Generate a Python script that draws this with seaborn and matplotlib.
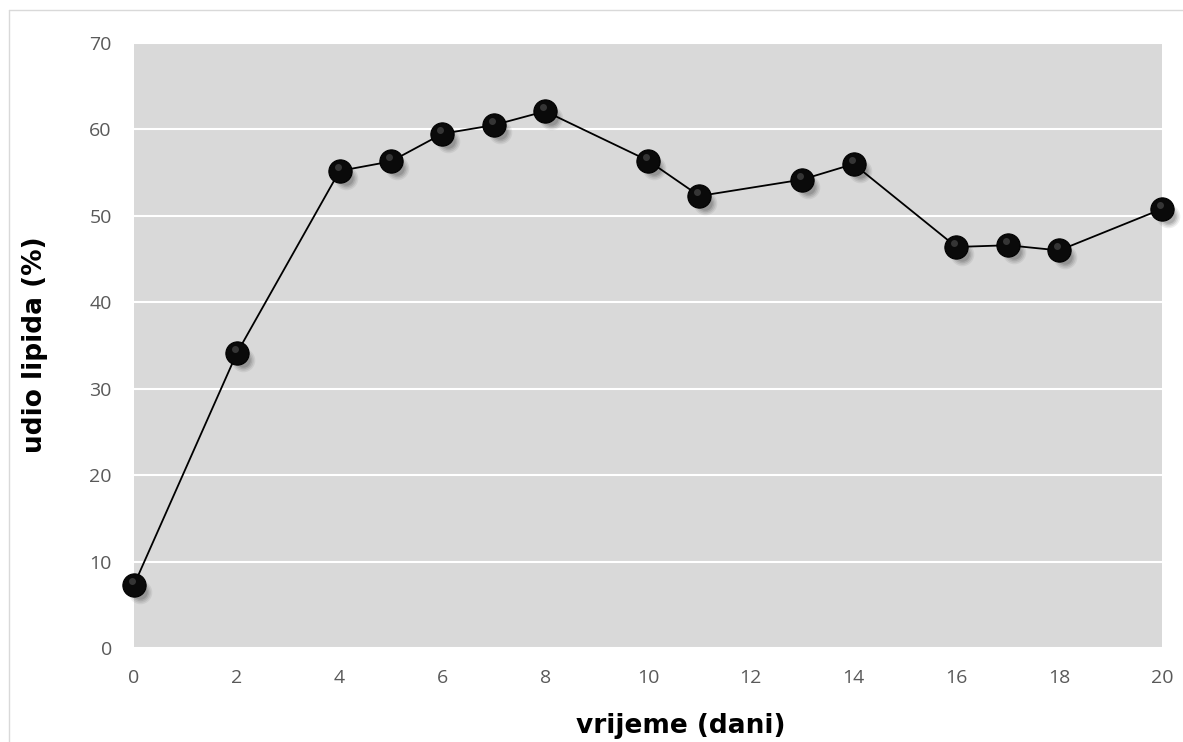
import matplotlib
matplotlib.use('Agg')
import matplotlib.pyplot as plt
import matplotlib.transforms as mtransforms
import seaborn as sns
import pandas as pd

# vrijeme (dani) / udio lipida (%)
days = [0, 2, 4, 5, 6, 7, 8, 10, 11, 13, 14, 16, 17, 18, 20]
lipid = [7.3, 34.1, 55.2, 56.3, 59.5, 60.5, 62.1, 56.4, 52.3, 54.2, 56.0, 46.4, 46.6, 46.0, 50.8]

x_ticks = list(range(0, 21, 2))
y_ticks = list(range(0, 71, 10))

df = pd.DataFrame({'dani': days, 'lipidi': lipid})

sns.set_theme(style='white')
plt.rcParams['font.family'] = ['Open Sans', 'DejaVu Sans']

fig = plt.figure(figsize=(11.83, 7.42), dpi=100)
ax = fig.add_axes([134 / 1183, 1 - 648 / 742, 1028 / 1183, 605 / 742])
ax.set_facecolor('#d9d9d9')

# line
sns.lineplot(data=df, x='dani', y='lipidi', ax=ax, color='black', linewidth=1.3,
             zorder=3, clip_on=False)

# soft shadow under each ball
for i, a in enumerate([0.08, 0.10, 0.13, 0.16]):
    off = mtransforms.offset_copy(ax.transData, fig=fig, x=6, y=-7, units='dots')
    ax.plot(df['dani'], df['lipidi'], 'o', markersize=17 - i * 2.2, color='#303030',
            alpha=a, markeredgewidth=0, transform=off, zorder=2, clip_on=False)

# balls
sns.scatterplot(data=df, x='dani', y='lipidi', ax=ax, s=280, color='#0a0a0a',
                edgecolor='#000000', linewidth=0.8, zorder=4, clip_on=False)
hl = mtransforms.offset_copy(ax.transData, fig=fig, x=-2, y=4, units='dots')
ax.plot(df['dani'], df['lipidi'], 'o', markersize=5, color='#9a9a9a', alpha=0.3,
        markeredgewidth=0, transform=hl, zorder=5, clip_on=False)

ax.set_xlim(0, 20)
ax.set_ylim(0, 70)
ax.set_xticks(x_ticks)
ax.set_yticks(y_ticks)
ax.grid(axis='y', color='white', linewidth=1.5)
ax.set_axisbelow(True)
for s in ax.spines.values():
    s.set_visible(False)
ax.tick_params(axis='both', length=0, labelsize=14, labelcolor='#595959')
ax.tick_params(axis='x', pad=15)
ax.tick_params(axis='y', pad=16)

ax.set_xlabel('')
ax.set_ylabel('')
fig.text(681 / 1183, 1 - 726 / 742, 'vrijeme (dani)', ha='center', va='center',
         fontsize=19, fontweight='bold', color='black', family=['DejaVu Sans'])
fig.text(35 / 1183, 1 - 345 / 742, 'udio lipida (%)', ha='center', va='center',
         rotation=90, fontsize=19, fontweight='bold', color='black', family=['DejaVu Sans'])

# light chart frame
fig.add_artist(plt.Line2D([9 / 1183, 9 / 1183], [0, 1 - 10 / 742], color='#d9d9d9', linewidth=1))
fig.add_artist(plt.Line2D([9 / 1183, 1], [1 - 10 / 742, 1 - 10 / 742], color='#d9d9d9', linewidth=1))

fig.savefig('out.png', dpi=100)
